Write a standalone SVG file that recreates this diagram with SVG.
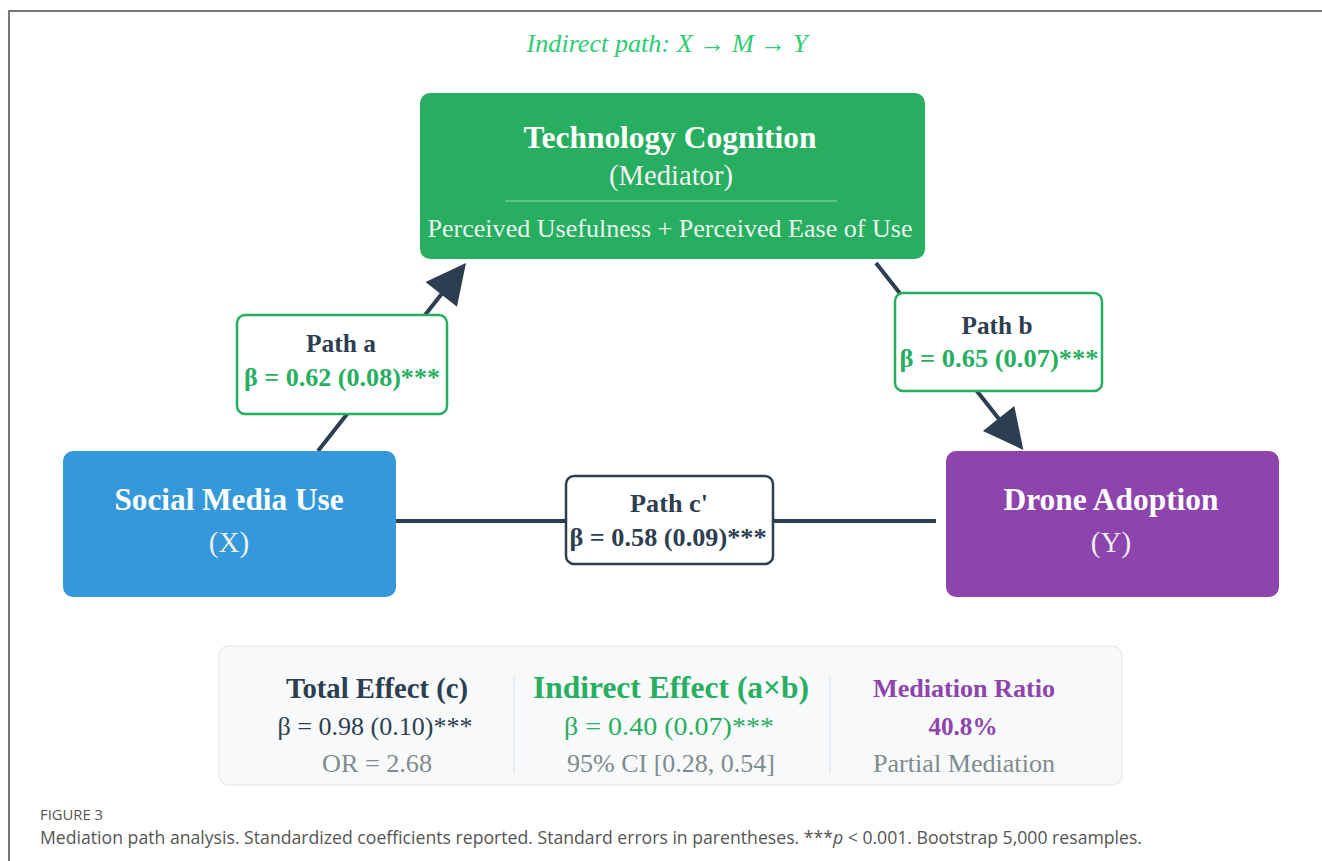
<svg xmlns="http://www.w3.org/2000/svg" width="1322" height="861" viewBox="0 0 1322 861">
<style>
.serif{font-family:"Liberation Serif","Times New Roman",serif}
.b{font-weight:bold}
.ttl{fill:#ffffff;font-size:31px;font-weight:bold}
.sub{fill:#f0f0f0;font-size:29px}
.lbl{fill:#ffffff;stroke-width:2.5}
.conn{stroke:#2c3e50;stroke-width:4;fill:none}
.dk{fill:#2c3e50}
.gr{fill:#27ae60}
.pu{fill:#8e44ad}
.gy{fill:#7f8c8d}
.cap{font-family:"Open Sans","Noto Sans",sans-serif;fill:#555}
</style>
<defs>
<marker id="ah" viewBox="0 0 10 10" refX="5" refY="5" markerWidth="46" markerHeight="40" markerUnits="userSpaceOnUse" orient="auto">
<path d="M0,0 L10,5 L0,10 z" fill="#2c3e50"/>
</marker>
</defs>
<rect width="1322" height="861" fill="#ffffff"/>
<path d="M9,861 V11 H1322" fill="none" stroke="#777780" stroke-width="2"/>
<text class="serif" x="667" y="52" text-anchor="middle" font-size="26" font-style="italic" fill="#2ecc71" textLength="281" lengthAdjust="spacingAndGlyphs">Indirect path: X → M → Y</text>

<g id="connectors">
<line class="conn" x1="318" y1="451" x2="453.6" y2="278.7" marker-end="url(#ah)"/>
<line class="conn" x1="876" y1="263" x2="1011" y2="434.2" marker-end="url(#ah)"/>
<line class="conn" x1="396" y1="521" x2="936" y2="521"/>
</g>

<g id="mediator">
<rect x="420" y="93" width="505" height="166" rx="10" fill="#27ae60"/>
<text class="serif ttl" x="670" y="148" text-anchor="middle" textLength="293" lengthAdjust="spacingAndGlyphs">Technology Cognition</text>
<text class="serif sub" x="671" y="185" text-anchor="middle" textLength="124" lengthAdjust="spacingAndGlyphs">(Mediator)</text>
<line x1="505" y1="201" x2="837" y2="201" stroke="#ffffff" stroke-opacity="0.35" stroke-width="1.5"/>
<text class="serif" x="670" y="237" text-anchor="middle" font-size="25" fill="#e8f6ec" textLength="485" lengthAdjust="spacingAndGlyphs">Perceived Usefulness + Perceived Ease of Use</text>
</g>

<g id="x-node">
<rect x="63" y="451" width="333" height="146" rx="10" fill="#3498db"/>
<text class="serif ttl" x="229" y="510" text-anchor="middle" textLength="229" lengthAdjust="spacingAndGlyphs">Social Media Use</text>
<text class="serif sub" x="229" y="552" text-anchor="middle">(X)</text>
</g>

<g id="y-node">
<rect x="946" y="451" width="333" height="146" rx="10" fill="#8e44ad"/>
<text class="serif ttl" x="1111" y="510" text-anchor="middle" textLength="215" lengthAdjust="spacingAndGlyphs">Drone Adoption</text>
<text class="serif sub" x="1111" y="552" text-anchor="middle">(Y)</text>
</g>

<g id="path-a">
<rect class="lbl" x="237" y="315" width="210" height="99" rx="8" stroke="#27ae60"/>
<text class="serif b dk" x="341" y="352" text-anchor="middle" font-size="25" textLength="70" lengthAdjust="spacingAndGlyphs">Path a</text>
<text class="serif b gr" x="342" y="386" text-anchor="middle" font-size="25" textLength="196" lengthAdjust="spacingAndGlyphs">β = 0.62 (0.08)***</text>
</g>

<g id="path-b">
<rect class="lbl" x="895" y="293" width="207" height="98" rx="8" stroke="#27ae60"/>
<text class="serif b dk" x="997" y="334" text-anchor="middle" font-size="25" textLength="71" lengthAdjust="spacingAndGlyphs">Path b</text>
<text class="serif b gr" x="999" y="367" text-anchor="middle" font-size="25" textLength="199" lengthAdjust="spacingAndGlyphs">β = 0.65 (0.07)***</text>
</g>

<g id="path-c">
<rect class="lbl" x="566" y="476" width="207" height="88" rx="8" stroke="#2c3e50"/>
<text class="serif b dk" x="669" y="512" text-anchor="middle" font-size="25" textLength="78" lengthAdjust="spacingAndGlyphs">Path c'</text>
<text class="serif b dk" x="668" y="546" text-anchor="middle" font-size="25" textLength="197" lengthAdjust="spacingAndGlyphs">β = 0.58 (0.09)***</text>
</g>

<g id="summary">
<rect x="219" y="646" width="903" height="139" rx="10" fill="#f8f9fa" stroke="#e9ecef" stroke-width="1.5"/>
<line x1="514" y1="676" x2="514" y2="774" stroke="#e6e9ec" stroke-width="1.5"/>
<line x1="830" y1="676" x2="830" y2="774" stroke="#e6e9ec" stroke-width="1.5"/>
<text class="serif b dk" x="377" y="698" text-anchor="middle" font-size="29" textLength="182" lengthAdjust="spacingAndGlyphs">Total Effect (c)</text>
<text class="serif dk" x="375" y="735" text-anchor="middle" font-size="26" textLength="195" lengthAdjust="spacingAndGlyphs">β = 0.98 (0.10)***</text>
<text class="serif gy" x="377" y="772" text-anchor="middle" font-size="26" textLength="110" lengthAdjust="spacingAndGlyphs">OR = 2.68</text>
<text class="serif b gr" x="671" y="698" text-anchor="middle" font-size="31" textLength="276" lengthAdjust="spacingAndGlyphs">Indirect Effect (a×b)</text>
<text class="serif gr" x="669" y="735" text-anchor="middle" font-size="26" textLength="210" lengthAdjust="spacingAndGlyphs">β = 0.40 (0.07)***</text>
<text class="serif gy" x="671" y="772" text-anchor="middle" font-size="26" textLength="208" lengthAdjust="spacingAndGlyphs">95% CI [0.28, 0.54]</text>
<text class="serif b pu" x="964" y="697" text-anchor="middle" font-size="26" textLength="182" lengthAdjust="spacingAndGlyphs">Mediation Ratio</text>
<text class="serif b pu" x="963" y="735" text-anchor="middle" font-size="26" textLength="69" lengthAdjust="spacingAndGlyphs">40.8%</text>
<text class="serif gy" x="964" y="772" text-anchor="middle" font-size="26" textLength="182" lengthAdjust="spacingAndGlyphs">Partial Mediation</text>
</g>

<text class="cap" x="40" y="820" font-size="15" textLength="63" lengthAdjust="spacingAndGlyphs">FIGURE 3</text>
<text class="cap" x="40" y="844" font-size="17.5" textLength="1102" lengthAdjust="spacingAndGlyphs">Mediation path analysis. Standardized coefficients reported. Standard errors in parentheses. ***<tspan font-style="italic">p</tspan> &lt; 0.001. Bootstrap 5,000 resamples.</text>
</svg>
